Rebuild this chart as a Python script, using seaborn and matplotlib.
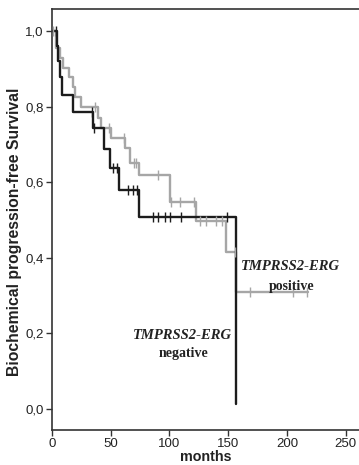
import numpy as np
import pandas as pd
import matplotlib
matplotlib.use("Agg")
import matplotlib.pyplot as plt
import seaborn as sns

# ---- data ----
neg_time = [0, 4, 4.8, 6.6, 8.2, 17.9, 35, 44.3, 49, 56.8, 74.2, 156.5, 156.6]
neg_surv = [1.0, 0.96, 0.92, 0.878, 0.831, 0.786, 0.743, 0.688, 0.638, 0.579, 0.509, 0.012, 0.012]
neg_censor = [3, 34, 36, 52, 55, 64.5, 68.7, 72.2, 86, 90.3, 96, 100.3, 110.2, 149]

pos_time = [0, 3, 6.6, 9.4, 14.5, 17.9, 19.6, 25, 39.2, 42, 50, 62, 66.2, 74.1,
            100.3, 122.4, 148, 157, 217.8]
pos_surv = [1.0, 0.955, 0.929, 0.902, 0.878, 0.852, 0.825, 0.799, 0.770, 0.743,
            0.717, 0.690, 0.651, 0.619, 0.548, 0.498, 0.416, 0.310, 0.310]
pos_censor = [1, 36.4, 48.2, 61.6, 69.5, 71.9, 90, 101.5, 109, 121,
              125.8, 131, 140, 144.3, 155.6, 168.4, 205.3, 217.2]

groups = ["TMPRSS2-ERG negative", "TMPRSS2-ERG positive"]
colors = {"TMPRSS2-ERG negative": "#1c1c1c", "TMPRSS2-ERG positive": "#a6a6a6"}

y_ticks = [0.0, 0.2, 0.4, 0.6, 0.8, 1.0]
y_ticklabels = ["0,0", "0,2", "0,4", "0,6", "0,8", "1,0"]
x_ticks = [0, 50, 100, 150, 200, 250]

curves = pd.DataFrame({
    "months": neg_time + pos_time,
    "surv": neg_surv + pos_surv,
    "group": [groups[0]] * len(neg_time) + [groups[1]] * len(pos_time),
})


def step_value(times, survs, x):
    i = np.searchsorted(np.asarray(times), x, side="right") - 1
    return survs[max(i, 0)]


cens = pd.DataFrame({
    "months": neg_censor + pos_censor,
    "surv": [step_value(neg_time, neg_surv, c) for c in neg_censor]
            + [step_value(pos_time, pos_surv, c) for c in pos_censor],
    "group": [groups[0]] * len(neg_censor) + [groups[1]] * len(pos_censor),
})

sns.set_style("white")
plt.rcParams["font.family"] = ["Liberation Sans", "DejaVu Sans"]

fig = plt.figure(figsize=(3.59, 4.65), dpi=100)
ax = fig.add_axes([52 / 359, 35 / 465, 307 / 359, 421 / 465])

# gray first, black on top
for g in [groups[1], groups[0]]:
    sub = curves[curves["group"] == g]
    sns.lineplot(data=sub, x="months", y="surv", ax=ax, color=colors[g],
                 drawstyle="steps-post", linewidth=1.7, estimator=None,
                 sort=False, legend=False)
    csub = cens[cens["group"] == g]
    ax.scatter(csub["months"], csub["surv"], marker="|", s=45,
               color=colors[g], linewidths=1.0, zorder=3)

ax.set_xlim(0, 261.3)
ax.set_ylim(-0.0556, 1.058)
ax.set_yticks(y_ticks)
ax.set_yticklabels(y_ticklabels)
ax.set_xticks(x_ticks)
ax.tick_params(axis="both", direction="out", length=4, width=1, color="#333333",
               labelsize=9.5, labelcolor="#222222", pad=2,
               left=True, bottom=True)

for side in ["left", "bottom", "top"]:
    ax.spines[side].set_visible(True)
    ax.spines[side].set_color("#333333")
    ax.spines[side].set_linewidth(1.2)
ax.spines["right"].set_visible(False)

ax.set_xlabel("months", fontsize=10.3, fontweight="bold", color="#222222")
ax.set_ylabel("Biochemical progression-free Survival", fontsize=11.3,
              fontweight="bold", color="#222222")
ax.xaxis.set_label_coords(0.5, -0.048)
ax.yaxis.set_label_coords(-0.098, 0.47)

serif = ["Liberation Serif", "DejaVu Serif"]
ax.text(111, 0.195, "TMPRSS2-ERG", ha="center", va="center", fontsize=10.5,
        fontweight="bold", fontstyle="italic", family=serif, color="#222222")
ax.text(112, 0.147, "negative", ha="center", va="center", fontsize=10,
        fontweight="bold", family=serif, color="#222222")
ax.text(203, 0.378, "TMPRSS2-ERG", ha="center", va="center", fontsize=10.5,
        fontweight="bold", fontstyle="italic", family=serif, color="#222222")
ax.text(204, 0.323, "positive", ha="center", va="center", fontsize=10,
        fontweight="bold", family=serif, color="#222222")

fig.savefig("out.png", dpi=100)
